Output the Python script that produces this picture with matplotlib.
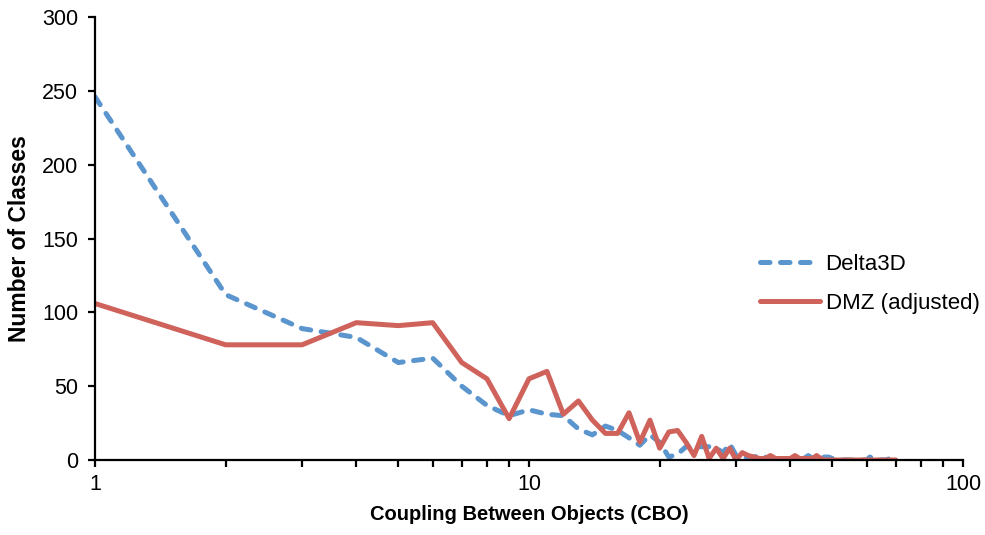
import matplotlib
matplotlib.use("Agg")
import matplotlib.pyplot as plt
from matplotlib.ticker import FixedLocator, NullFormatter, LogLocator

plt.rcParams['font.family'] = ['Liberation Sans', 'DejaVu Sans']

# CBO value (x) and number of classes per project
cbo = list(range(1, 71))

delta3d = [246, 112, 89, 83, 66, 69, 50, 37, 30, 34,
           31, 30, 21, 17, 23, 20, 15, 10, 17, 12,
           2, 4, 9, 9, 9, 9, 8, 5, 11, 3,
           2, 2, 2, 3, 2, 1, 1, 2, 1, 1,
           1, 1, 1, 3, 1, 1, 1, 2, 2, 1,
           1, 0, 0, 0, 0, 0, 0, 0, 0, 0,
           2, 1, 2, 0, 0, 0, 0, 2, 0, 0]

dmz = [106, 78, 78, 93, 91, 93, 66, 55, 28, 55,
       60, 31, 40, 27, 18, 18, 32, 12, 27, 8,
       19, 20, 12, 3, 16, 1, 8, 1, 8, 0,
       5, 3, 2, 1, 1, 3, 1, 1, 1, 1,
       3, 1, 1, 1, 1, 3, 1, 0, 0, 0,
       0, 0, 0, 0, 0, 0, 0, 0, 0, 0,
       0, 0, 0, 0, 0, 0, 0, 0, 0, 0]

y_ticks = [0, 50, 100, 150, 200, 250, 300]
x_ticks = [1, 10, 100]

fig = plt.figure(figsize=(9.85, 5.35), dpi=100)
ax = fig.add_axes([0.0964, 0.1402, 0.8813, 0.828])

ax.plot(cbo, delta3d, color='#5B95CD', linewidth=3.6, linestyle=(0, (1.9, 2.1)),
        dash_capstyle='round', label='Delta3D')
ax.plot(cbo, dmz, color='#CF625B', linewidth=3.6, label='DMZ (adjusted)',
        solid_capstyle='round')

ax.set_xscale('log')
ax.set_xlim(1, 100)
ax.set_ylim(0, 300)
ax.xaxis.set_major_locator(FixedLocator(x_ticks))
ax.set_xticklabels([str(t) for t in x_ticks])
ax.xaxis.set_minor_locator(LogLocator(base=10, subs=range(2, 10)))
ax.xaxis.set_minor_formatter(NullFormatter())
ax.set_yticks(y_ticks)

for side in ['top', 'right']:
    ax.spines[side].set_visible(False)
for side in ['left', 'bottom']:
    ax.spines[side].set_linewidth(1.6)
ax.tick_params(axis='both', which='both', direction='out', width=1.6, length=5,
               labelsize=15.5, colors='black')
ax.tick_params(axis='x', pad=5)
ax.tick_params(axis='y', pad=7)

ax.set_xlabel('Coupling Between Objects (CBO)', fontsize=14.5, fontweight='bold',
              labelpad=7)
ax.set_ylabel('Number of Classes', fontsize=16.5, fontweight='bold', labelpad=8)

ax.legend(loc='center left', bbox_to_anchor=(0.7716, 0.469),
          bbox_transform=fig.transFigure, frameon=False, borderpad=0,
          borderaxespad=0, fontsize=16, handlelength=2.7, labelspacing=0.8,
          handletextpad=0.25)

fig.savefig('out.png', dpi=100)
